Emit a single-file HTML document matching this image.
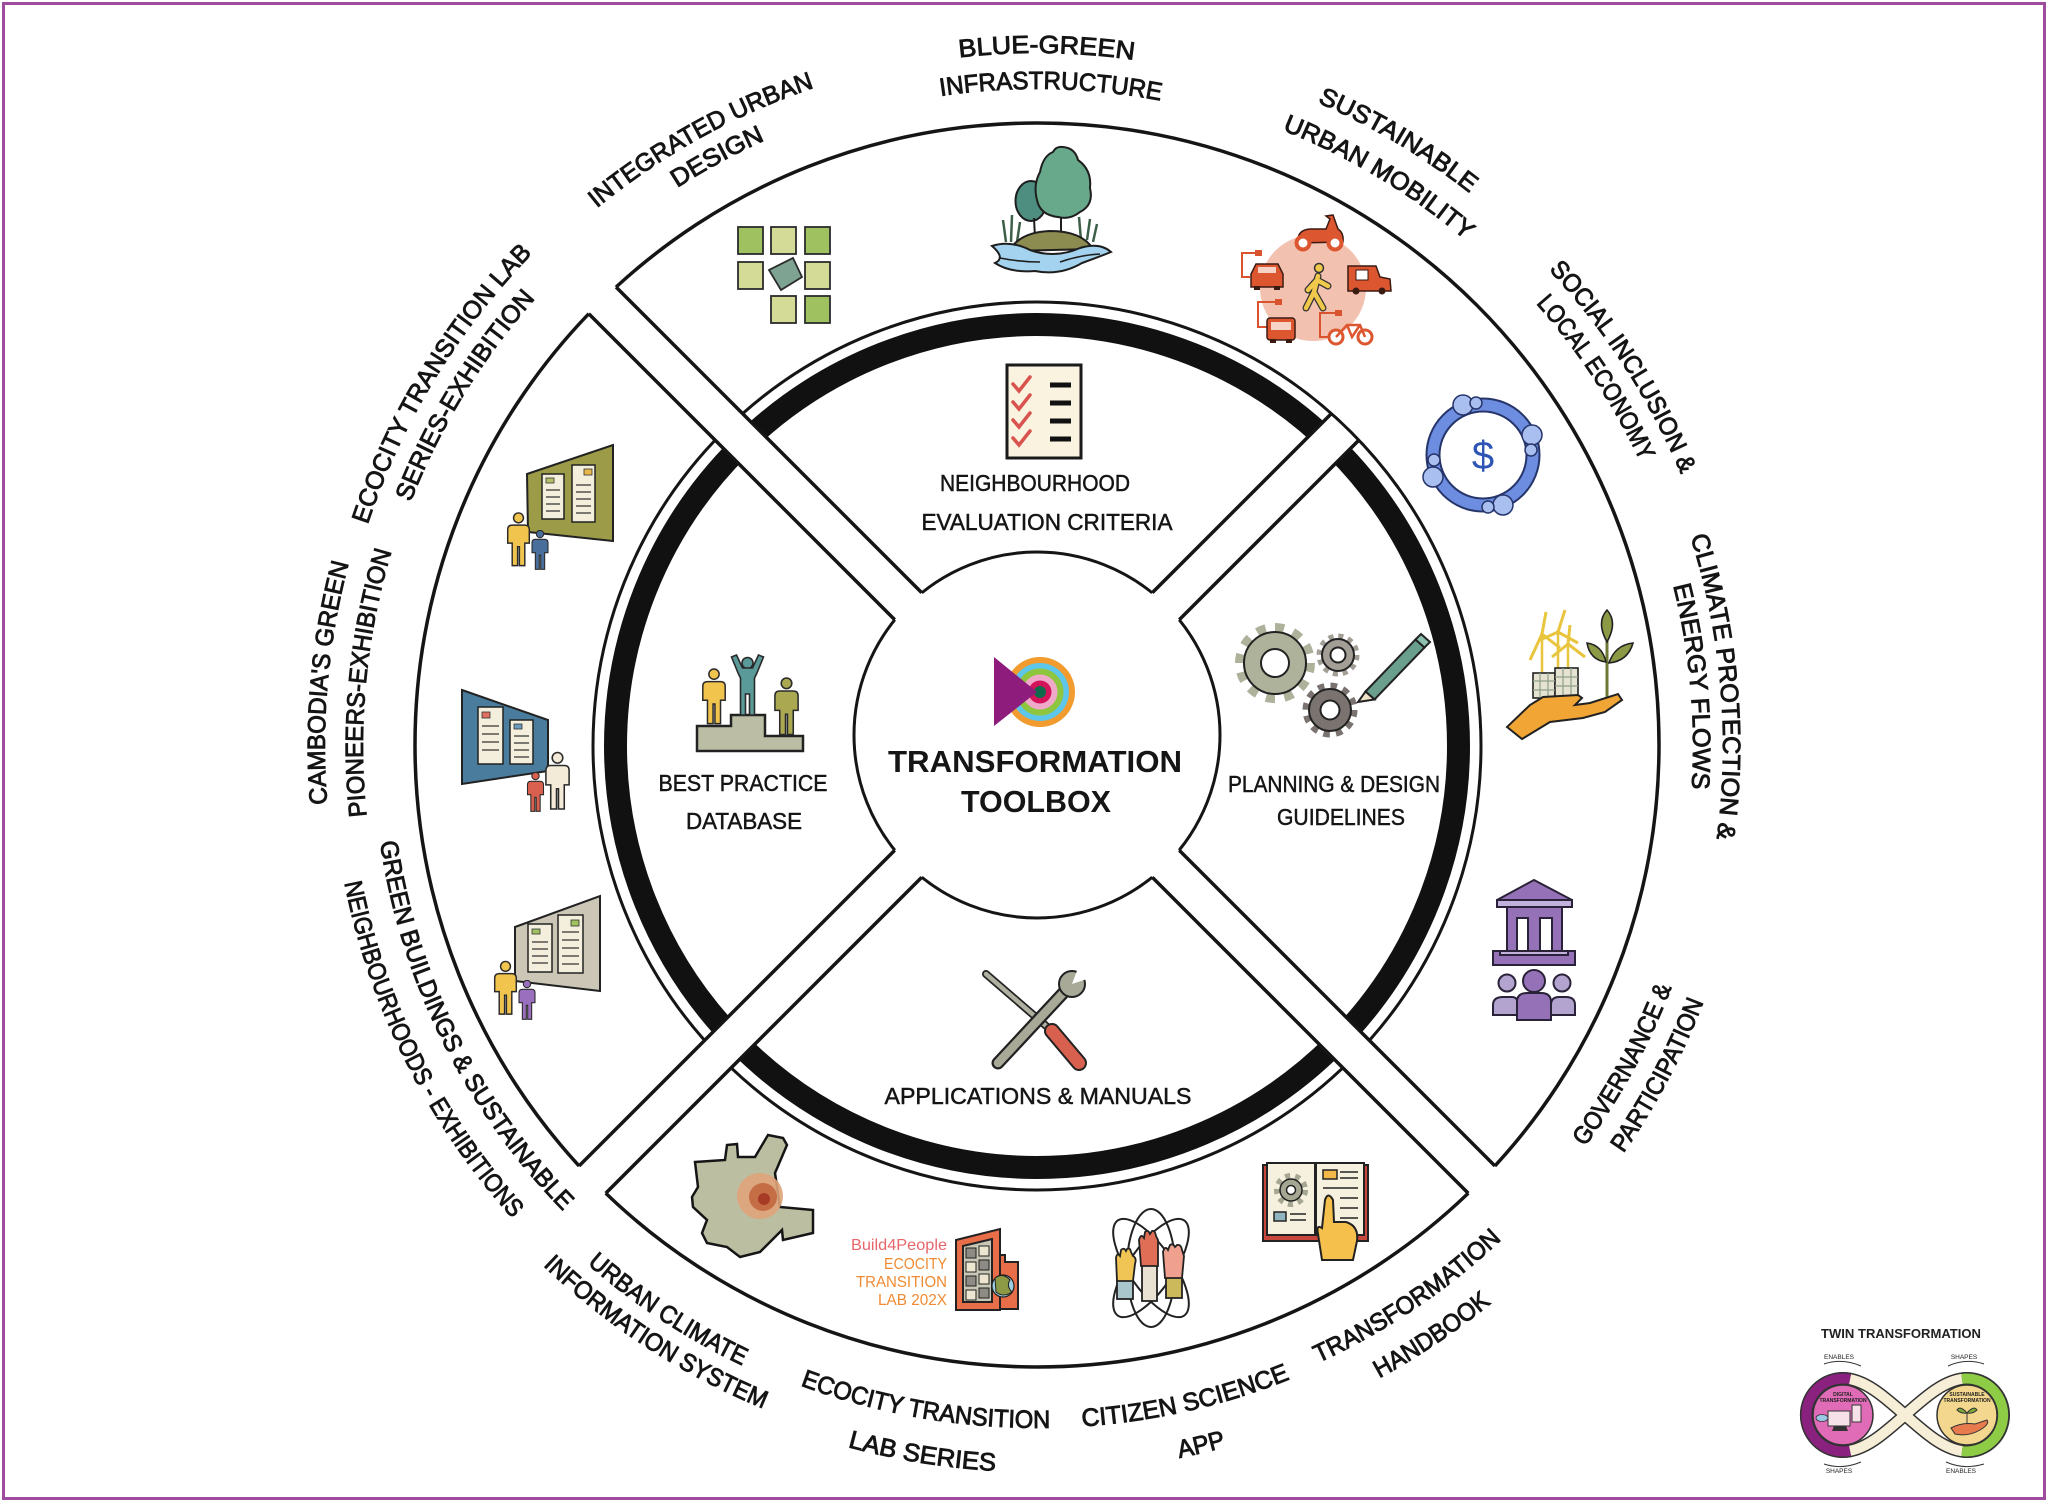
<!DOCTYPE html>
<html><head><meta charset="utf-8">
<style>
html,body{margin:0;padding:0;background:#fff;overflow:hidden;}
svg{display:block;}
.L{font-family:"Liberation Sans","DejaVu Sans",sans-serif;font-size:25px;fill:#151515;stroke:#151515;stroke-width:0.9;}
.I{font-family:"Liberation Sans","DejaVu Sans",sans-serif;font-size:23px;fill:#151515;stroke:#151515;stroke-width:0.5;}
.T{font-family:"Liberation Sans","DejaVu Sans",sans-serif;font-size:31px;font-weight:bold;fill:#151515;}
.S{font-family:"Liberation Sans","DejaVu Sans",sans-serif;}
</style></head><body>
<svg width="2048" height="1502" viewBox="0 0 2048 1502" xmlns="http://www.w3.org/2000/svg">
<defs>
<mask id="mA" maskUnits="userSpaceOnUse" x="0" y="0" width="2048" height="1502">
<rect x="0" y="0" width="2048" height="1502" fill="#000"/>
<circle cx="1037" cy="745" r="622" fill="#fff"/>
<circle cx="1037" cy="735" r="183" fill="#000"/>
</mask>
<mask id="mB" maskUnits="userSpaceOnUse" x="0" y="0" width="2048" height="1502">
<rect x="0" y="0" width="2048" height="1502" fill="#000"/>
<circle cx="1037" cy="746" r="444" fill="#fff"/>
<circle cx="1037" cy="735" r="183" fill="#000"/>
</mask>
<symbol id="person" viewBox="0 0 30 60"><circle cx="15" cy="6" r="5.5"/><path d="M3 34 L3 19 Q3 14 8 14 L22 14 Q27 14 27 19 L27 34 L22 34 L22 59 L16 59 L16 38 L14 38 L14 59 L8 59 L8 34 Z"/></symbol>
<symbol id="cheer" viewBox="0 0 36 62"><circle cx="18" cy="9" r="5.5"/><path d="M2 3 L7 1 L13 14 L23 14 L29 1 L34 3 L27 20 L25 24 L25 61 L20 61 L20 40 L16 40 L16 61 L11 61 L11 24 L9 20 Z"/></symbol>
<!-- label paths, top type (clockwise) -->
<path id="pT693" d="M547 256 A693 693 0 0 1 1527 256"/>
<path id="pT657" d="M572.4 281.4 A657 657 0 0 1 1501.6 281.4"/>
<path id="pT695" d="M545.6 254.6 A695 695 0 0 1 1528.4 254.6"/>
<path id="pT664" d="M567.5 276.5 A664 664 0 0 1 1506.5 276.5"/>
<path id="pT702" d="M540.6 249.6 A702 702 0 0 1 1533.4 249.6"/>
<path id="pT663" d="M568.2 277.2 A663 663 0 0 1 1505.8 277.2"/>
<path id="pT699" d="M542.7 251.7 A699 699 0 0 1 1531.3 251.7"/>
<path id="pT667" d="M565.4 274.4 A667 667 0 0 1 1508.6 274.4"/>
<path id="pT686" d="M551.9 260.9 A686 686 0 0 1 1522.1 260.9"/>
<path id="pT656" d="M573.1 282.1 A656 656 0 0 1 1500.9 282.1"/>
<path id="pT712" d="M533.5 242.5 A712 712 0 0 1 1540.5 242.5"/>
<path id="pT674" d="M560.4 269.4 A674 674 0 0 1 1513.6 269.4"/>
<path id="pT705" d="M538.5 247.5 A705 705 0 0 1 1535.5 247.5"/>
<path id="pT672" d="M561.8 270.8 A672 672 0 0 1 1512.2 270.8"/>
<!-- bottom type (counterclockwise) -->
<path id="pB679" d="M556.9 1226.1 A679 679 0 0 0 1517.1 1226.1"/>
<path id="pB714" d="M532.1 1250.9 A714 714 0 0 0 1541.9 1250.9"/>
<path id="pB678" d="M557.6 1225.4 A678 678 0 0 0 1516.4 1225.4"/>
<path id="pB719" d="M528.6 1254.4 A719 719 0 0 0 1545.4 1254.4"/>
<path id="pB682" d="M554.8 1228.2 A682 682 0 0 0 1519.2 1228.2"/>
<path id="pB726" d="M523.6 1259.4 A726 726 0 0 0 1550.4 1259.4"/>
<path id="pB686" d="M551.9 1231.1 A686 686 0 0 0 1522.1 1231.1"/>
<path id="pB717" d="M530 1253 A717 717 0 0 0 1544 1253"/>
<path id="pB664" d="M567.5 1215.5 A664 664 0 0 0 1506.5 1215.5"/>
<path id="pB706" d="M537.8 1245.2 A706 706 0 0 0 1536.2 1245.2"/>
</defs>

<rect width="2048" height="1502" fill="#fff"/>
<rect x="3.5" y="3.5" width="2041" height="1495" fill="none" stroke="#a04c9e" stroke-width="3"/>

<!-- rings -->
<circle cx="1037" cy="745" r="622" fill="none" stroke="#151515" stroke-width="3.5"/>
<circle cx="1037" cy="746" r="444" fill="none" stroke="#151515" stroke-width="3"/>
<circle cx="1037" cy="746" r="421.5" fill="none" stroke="#111" stroke-width="23"/>
<circle cx="1037" cy="735" r="183" fill="none" stroke="#151515" stroke-width="3"/>

<!-- gap bands -->
<g fill="#fff">
<rect x="-660" y="-19" width="1320" height="38" transform="translate(1037 735) rotate(45)"/>
<rect x="0" y="-19" width="660" height="38" transform="translate(1037 735) rotate(135)"/>
<rect x="0" y="-19" width="430" height="38" transform="translate(1037 735) rotate(-45)"/>
</g>
<g stroke="#151515" stroke-width="3.5" mask="url(#mA)">
<line x1="300" y1="-29" x2="1800" y2="1471"/>
<line x1="300" y1="25" x2="1800" y2="1525"/>
<line x1="1023" y1="722" x2="300" y2="1445"/>
<line x1="1051" y1="748" x2="300" y2="1499"/>
</g>
<g stroke="#151515" stroke-width="3.5" mask="url(#mB)">
<line x1="1023" y1="722" x2="1700" y2="45"/>
<line x1="1051" y1="748" x2="1700" y2="99"/>
</g>

<!-- ===== Outer icons ===== -->
<!-- integrated urban design grid -->
<g stroke="#2b2b2b" stroke-width="1.8">
<rect x="738" y="227" width="25" height="27" fill="#9fc160"/>
<rect x="771" y="227" width="25" height="27" fill="#d3db97"/>
<rect x="805" y="227" width="25" height="27" fill="#9fc160"/>
<rect x="738" y="262" width="25" height="27" fill="#d3db97"/>
<polygon points="793,258 802,277 781,290 769,270" fill="#7fa392"/>
<rect x="805" y="262" width="25" height="27" fill="#d3db97"/>
<rect x="771" y="296" width="25" height="27" fill="#d3db97"/>
<rect x="805" y="296" width="25" height="27" fill="#9fc160"/>
</g>

<!-- blue-green tree -->
<g stroke="#1e1e1e" stroke-width="2">
<path d="M1006 242 L1003 220 M1011 242 L1012 215 M1017 242 L1020 222 M1081 240 L1079 217 M1087 240 L1090 219 M1093 242 L1097 224" stroke="#3d5f48" stroke-width="2.5" fill="none"/>
<ellipse cx="1031" cy="201" rx="15.5" ry="20" fill="#4d8e80"/>
<line x1="1034" y1="218" x2="1035" y2="238"/>
<line x1="1061" y1="214" x2="1061" y2="236"/>
<path d="M1063 147 Q1075 148 1078 160 Q1092 170 1090 188 Q1094 205 1080 212 Q1070 220 1058 217 Q1040 215 1037 200 Q1033 185 1040 172 Q1043 156 1053 152 Q1056 146 1063 147 Z" fill="#68a98b"/>
<path d="M1009 251 Q1020 232 1050 231 Q1082 231 1093 249 Z" fill="#8c8b50"/>
<path d="M992 246 Q1010 240 1030 250 Q1055 259 1080 248 Q1100 242 1111 252 Q1096 258 1082 263 Q1060 276 1035 271 Q1010 273 995 263 Q1006 258 992 246 Z" fill="#a3d3ef"/>
<path d="M1000 258 Q1020 262 1040 262 M1060 262 Q1080 255 1100 254" fill="none" stroke-width="1.5"/>
</g>

<!-- sustainable mobility -->
<circle cx="1313" cy="288" r="53" fill="#f3c1b0"/>
<g stroke="#d9542e" stroke-width="2" fill="none">
<path d="M1256 253 L1242 253 L1242 277 L1250 277"/>
<path d="M1276 302 L1258 302 L1258 327 L1267 327"/>
<path d="M1336 313 L1320 313 L1320 337 L1328 337"/>
</g>
<g fill="#d9542e"><rect x="1255" y="250" width="7" height="6"/><rect x="1275" y="299" width="7" height="6"/><rect x="1335" y="310" width="7" height="6"/></g>
<g fill="#dc5630" stroke="#3b1a12" stroke-width="1.5">
<path d="M1298 240 Q1298 230 1310 229 L1326 229 L1330 219 L1326 216 L1333 215 L1338 229 Q1344 233 1343 242 L1298 243 Z"/>
<path d="M1251 287 L1251 274 L1256 264 L1278 264 L1283 274 L1283 287 Z"/>
<path d="M1348 291 L1348 266 L1376 266 L1380 277 L1390 279 L1391 291 Z"/>
<rect x="1267" y="318" width="28" height="22" rx="3"/>
</g>
<circle cx="1303" cy="243" r="6.5" fill="#fff" stroke="#dc5630" stroke-width="4"/>
<circle cx="1335" cy="243" r="6.5" fill="#fff" stroke="#dc5630" stroke-width="4"/>
<rect x="1258" y="267" width="18" height="6" fill="#f6d3c6"/>
<rect x="1356" y="270" width="12" height="10" fill="#fff" stroke="#3b1a12" stroke-width="1"/>
<rect x="1271" y="322" width="20" height="8" fill="#f6d3c6"/>
<g fill="#3b1a12"><rect x="1254" y="286" width="6" height="4"/><rect x="1274" y="286" width="6" height="4"/><rect x="1270" y="339" width="6" height="4"/><rect x="1286" y="339" width="6" height="4"/><circle cx="1356" cy="291" r="3.5"/><circle cx="1382" cy="291" r="3.5"/></g>
<g fill="#fff" stroke="#dc5630" stroke-width="3"><circle cx="1336" cy="337" r="7"/><circle cx="1365" cy="337" r="7"/></g>
<path d="M1336 337 L1347 325 L1360 325 L1365 337 M1347 325 L1352 337 L1360 325" stroke="#dc5630" stroke-width="2.5" fill="none"/>
<g fill="none" stroke-linecap="round">
<path d="M1318 276 L1314 292 L1306 308 M1314 292 L1323 308 M1317 280 L1308 290 M1317 280 L1328 286" stroke="#333" stroke-width="7"/>
<path d="M1318 276 L1314 292 L1306 308 M1314 292 L1323 308 M1317 280 L1308 290 M1317 280 L1328 286" stroke="#f0c84b" stroke-width="4.5"/>
</g>
<circle cx="1319" cy="268" r="4.5" fill="#f0c84b" stroke="#333" stroke-width="1.5"/>

<!-- social inclusion -->
<circle cx="1483" cy="455" r="50" fill="none" stroke="#26356a" stroke-width="15"/>
<circle cx="1483" cy="455" r="50" fill="none" stroke="#6c8de0" stroke-width="11"/>
<g fill="#a9bff0" stroke="#26356a" stroke-width="1.5">
<circle cx="1463" cy="405" r="10"/><circle cx="1532" cy="435" r="10"/><circle cx="1503" cy="505" r="10"/><circle cx="1433" cy="477" r="10"/>
<circle cx="1476" cy="403" r="6"/><circle cx="1531" cy="450" r="6"/><circle cx="1488" cy="507" r="6"/><circle cx="1434" cy="460" r="6"/>
</g>
<text x="1483" y="469" font-size="40" text-anchor="middle" fill="#2e55b5" class="S">$</text>

<!-- climate protection -->
<g stroke="#222" stroke-width="1.6">
<path d="M1542 672 L1542 632 M1558 668 L1558 630 M1568 670 L1568 642" stroke="#e8c53d" stroke-width="2.5"/>
<path d="M1542 634 L1530 660 M1542 634 L1560 648 M1542 634 L1546 612 M1558 632 L1565 610 M1558 632 L1578 643 M1558 632 L1540 640 M1568 644 L1585 657 M1568 644 L1552 657 M1568 644 L1570 625" stroke="#e8c53d" stroke-width="3" fill="none"/>
<rect x="1533" y="673" width="22" height="25" fill="#e6e3d3"/>
<rect x="1555" y="668" width="23" height="29" fill="#e6e3d3"/>
<path d="M1533 681 H1555 M1533 690 H1555 M1540 673 V698 M1548 673 V698 M1555 677 H1578 M1555 686 H1578 M1563 668 V697 M1571 668 V697" stroke="#8fa08a" stroke-width="1.2"/>
<path d="M1607 698 L1607 634" stroke="#6d7a33" stroke-width="3"/>
<path d="M1607 610 Q1618 622 1607 642 Q1596 622 1607 610 Z" fill="#8c9a45"/>
<path d="M1587 643 Q1602 645 1606 662 Q1590 660 1587 643 Z" fill="#8c9a45"/>
<path d="M1633 643 Q1615 645 1609 663 Q1628 661 1633 643 Z" fill="#8c9a45"/>
<path d="M1507 727 L1522 739 L1550 722 L1583 718 L1605 712 L1622 700 L1618 694 L1590 703 L1575 705 L1582 698 L1578 695 L1543 697 L1530 705 Z" fill="#f0a535" stroke-width="2"/>
</g>

<!-- governance -->
<g stroke="#2a2238" stroke-width="2">
<polygon points="1534,880 1572,900 1497,900" fill="#9572b8"/>
<rect x="1497" y="900" width="75" height="7" fill="#c2b0dd"/>
<rect x="1507" y="907" width="55" height="45" fill="#9572b8"/>
<rect x="1517" y="918" width="11" height="33" fill="#fff"/>
<rect x="1540" y="918" width="12" height="33" fill="#fff"/>
<rect x="1493" y="951" width="82" height="14" fill="#9572b8"/>
<rect x="1500" y="951" width="68" height="4" fill="#c2b0dd"/>
<path d="M1493 1015 L1493 1005 Q1493 997 1503 997 L1512 997 Q1518 997 1518 1005 L1518 1015 Z" fill="#b3a3cf"/>
<path d="M1551 1015 L1551 1005 Q1551 997 1559 997 L1566 997 Q1575 997 1575 1005 L1575 1015 Z" fill="#b3a3cf"/>
<path d="M1517 1020 L1517 1002 Q1517 993 1527 993 L1541 993 Q1551 993 1551 1002 L1551 1020 Z" fill="#9572b8"/>
<circle cx="1507" cy="983" r="8.5" fill="#b3a3cf"/>
<circle cx="1562" cy="983" r="8.5" fill="#b3a3cf"/>
<circle cx="1534" cy="981" r="11" fill="#9572b8"/>
</g>

<!-- handbook -->
<g stroke="#222" stroke-width="2">
<rect x="1263" y="1165" width="105" height="76" fill="#c8473d"/>
<rect x="1267" y="1163" width="48" height="72" fill="#f6f1de"/>
<rect x="1316" y="1163" width="48" height="72" fill="#f6f1de"/>
<circle cx="1291" cy="1190" r="14" fill="none" stroke="#a5a792" stroke-width="6" stroke-dasharray="5 5"/>
<circle cx="1291" cy="1190" r="11" fill="#a5a792" stroke-width="1.5"/>
<circle cx="1291" cy="1190" r="4.5" fill="#fff" stroke-width="1.5"/>
<rect x="1274" y="1212" width="12" height="9" fill="#8fb3bf" stroke-width="1.5"/>
<rect x="1323" y="1170" width="14" height="9" fill="#f2b84a" stroke-width="1.5"/>
<path d="M1290 1214 H1306 M1290 1220 H1306 M1340 1172 H1358 M1340 1178 H1358 M1323 1188 H1358 M1340 1198 H1358 M1340 1208 H1358 M1340 1218 H1358" stroke-width="1.5"/>
<path d="M1322 1260 L1318 1234 Q1316 1224 1322 1228 L1325 1200 Q1328 1191 1333 1200 L1334 1222 L1346 1222 Q1359 1226 1357 1241 L1353 1260 Z" fill="#f5c04b"/>
</g>

<!-- citizen science -->
<g fill="none" stroke="#222" stroke-width="2">
<ellipse cx="1151" cy="1268" rx="24" ry="59"/>
<ellipse cx="1151" cy="1268" rx="58" ry="22" transform="rotate(-55 1151 1268)"/>
<ellipse cx="1151" cy="1268" rx="58" ry="22" transform="rotate(55 1151 1268)"/>
</g>
<g stroke="#222" stroke-width="1.8">
<rect x="1117" y="1280" width="16" height="19" fill="#a8c6cc"/>
<path d="M1117 1281 L1116 1258 Q1117 1252 1120 1256 L1121 1250 Q1124 1247 1126 1251 L1127 1249 Q1130 1247 1131 1252 L1133 1256 Q1137 1258 1135 1264 L1133 1281 Z" fill="#f1c555"/>
<rect x="1142" y="1265" width="15" height="36" fill="#e9e1d1"/>
<path d="M1141 1266 L1139 1240 Q1141 1233 1144 1238 L1145 1232 Q1148 1229 1150 1234 L1152 1231 Q1155 1230 1156 1236 L1158 1240 L1158 1266 Z" fill="#e06e57"/>
<rect x="1166" y="1277" width="16" height="21" fill="#cbb95c"/>
<path d="M1165 1278 L1163 1252 Q1165 1245 1168 1250 L1170 1245 Q1173 1243 1175 1247 L1177 1245 Q1181 1244 1182 1250 L1184 1256 L1182 1278 Z" fill="#f0a08f"/>
</g>

<!-- build4people building -->
<g stroke="#222" stroke-width="2">
<path d="M998 1255 L1005 1255 L1005 1262 L1018 1262 L1018 1309 L998 1309 Z" fill="#e76e48"/>
<path d="M956 1240 L1000 1229 L1000 1310 L956 1310 Z" fill="#e76e48"/>
<path d="M963 1246 L992 1239 L992 1302 L963 1302 Z" fill="#c8c6b4"/>
<rect x="966" y="1248" width="10" height="10" fill="#8e8a84" stroke-width="1"/><rect x="979" y="1246" width="10" height="10" fill="#ece5d0" stroke-width="1"/>
<rect x="966" y="1262" width="10" height="10" fill="#ece5d0" stroke-width="1"/><rect x="979" y="1260" width="10" height="10" fill="#8e8a84" stroke-width="1"/>
<rect x="966" y="1276" width="10" height="10" fill="#8e8a84" stroke-width="1"/><rect x="979" y="1274" width="10" height="10" fill="#ece5d0" stroke-width="1"/>
<rect x="966" y="1290" width="10" height="10" fill="#ece5d0" stroke-width="1"/><rect x="979" y="1288" width="10" height="10" fill="#8e8a84" stroke-width="1"/>
<circle cx="1003" cy="1286" r="11" fill="#9fd0e2" stroke-width="1.2"/>
<path d="M995 1278 Q1003 1272 1010 1280 Q1006 1286 1012 1292 Q1003 1298 996 1292 Z" fill="#8c9a45" stroke-width="1"/>
</g>
<g class="S" text-anchor="end" font-size="16">
<text x="947" y="1250" fill="#e8666a" textLength="96" lengthAdjust="spacingAndGlyphs">Build4People</text>
<text x="947" y="1269" fill="#f08b33" textLength="63" lengthAdjust="spacingAndGlyphs">ECOCITY</text>
<text x="947" y="1287" fill="#f08b33" textLength="91" lengthAdjust="spacingAndGlyphs">TRANSITION</text>
<text x="947" y="1305" fill="#f08b33" textLength="69" lengthAdjust="spacingAndGlyphs">LAB 202X</text>
</g>

<!-- urban climate map -->
<polygon points="695,1162 725,1160 727,1145 737,1144 738,1157 755,1157 768,1135 783,1138 787,1145 775,1173 780,1207 813,1210 813,1233 783,1240 782,1230 760,1252 740,1257 727,1247 707,1243 702,1233 707,1220 693,1207 692,1197 698,1187" fill="#bcbea2" stroke="#151515" stroke-width="2.5"/>
<circle cx="760" cy="1196" r="23" fill="#dfa37a" opacity="0.9"/>
<circle cx="763" cy="1197" r="14" fill="#c56d45"/>
<circle cx="764" cy="1199" r="6" fill="#a83b26"/>

<!-- exhibition boards (left) -->
<g stroke="#222" stroke-width="2">
<polygon points="527,474 613,445 613,541 528,532" fill="#9c9b47"/>
<rect x="542" y="474" width="22" height="45" fill="#f4efdc" stroke-width="1.5"/>
<rect x="572" y="465" width="23" height="57" fill="#f4efdc" stroke-width="1.5"/>
<polygon points="462,690 548,720 548,771 462,784" fill="#4a7c9d"/>
<rect x="478" y="707" width="25" height="57" fill="#f4efdc" stroke-width="1.5"/>
<rect x="510" y="720" width="23" height="44" fill="#f4efdc" stroke-width="1.5"/>
<polygon points="515,927 600,896 600,991 515,981" fill="#cbc6b6"/>
<rect x="528" y="924" width="24" height="48" fill="#f4efdc" stroke-width="1.5"/>
<rect x="558" y="915" width="25" height="58" fill="#f4efdc" stroke-width="1.5"/>
</g>
<g stroke="#333" stroke-width="1.3">
<path d="M546 490 H560 M546 497 H560 M546 504 H560 M546 511 H560 M576 485 H591 M576 492 H591 M576 499 H591 M576 506 H591 M576 513 H591"/>
<path d="M482 726 H499 M482 734 H499 M482 742 H499 M482 750 H499 M514 736 H529 M514 743 H529 M514 750 H529 M514 757 H529"/>
<path d="M532 942 H548 M532 949 H548 M532 956 H548 M532 963 H548 M562 932 H579 M562 940 H579 M562 948 H579 M562 956 H579 M562 964 H579"/>
</g>
<g stroke="#333" stroke-width="0.8">
<rect x="546" y="478" width="8" height="5" fill="#b8c06a"/><rect x="584" y="469" width="8" height="6" fill="#e8b84a"/>
<rect x="482" y="712" width="8" height="6" fill="#e07060"/><rect x="514" y="724" width="8" height="5" fill="#6a9ac0"/>
<rect x="532" y="929" width="8" height="5" fill="#9fc160"/><rect x="571" y="920" width="8" height="6" fill="#9fc160"/>
</g>
<g stroke="#2a2a2a" stroke-width="1.6">
<use href="#person" x="505" y="509" width="27" height="61" fill="#f1c44e"/>
<use href="#person" x="530" y="530" width="20" height="40" fill="#4a6e9c"/>
<use href="#person" x="525" y="772" width="21" height="40" fill="#d9604f"/>
<use href="#person" x="543" y="750" width="29" height="62" fill="#f3ead8"/>
<use href="#person" x="492" y="957" width="27" height="62" fill="#f1c44e"/>
<use href="#person" x="517" y="980" width="20" height="40" fill="#9a6fbd"/>
</g>

<!-- ===== inner icons ===== -->
<!-- checklist -->
<rect x="1007" y="365" width="74" height="93" fill="#faf3df" stroke="#1a1a1a" stroke-width="3"/>
<g fill="none" stroke="#d9534f" stroke-width="3.5" stroke-linecap="round">
<polyline points="1013,384 1019,391 1030,377"/>
<polyline points="1013,402 1019,409 1030,395"/>
<polyline points="1013,420 1019,427 1030,413"/>
<polyline points="1013,438 1019,445 1030,431"/>
</g>
<g stroke="#111" stroke-width="5">
<line x1="1050" y1="385" x2="1071" y2="385"/><line x1="1050" y1="403" x2="1071" y2="403"/><line x1="1050" y1="421" x2="1071" y2="421"/><line x1="1050" y1="439" x2="1071" y2="439"/>
</g>

<!-- podium -->
<path d="M697 726 L731 726 L731 715 L765 715 L765 736 L803 736 L803 751 L697 751 Z" fill="#bbbea4" stroke="#222" stroke-width="2.5"/>
<g stroke="#2a2a2a" stroke-width="1.6">
<use href="#person" x="700" y="666" width="28" height="61" fill="#f1c44e"/>
<use href="#person" x="772" y="676" width="29" height="61" fill="#aaa952"/>
<use href="#cheer" x="729" y="654" width="37" height="62" fill="#5a9a98"/>
</g>

<!-- gears + pencil -->
<g stroke="#222" stroke-width="2">
<circle cx="1275" cy="663" r="35" fill="none" stroke="#aeb29a" stroke-width="10" stroke-dasharray="9 9.3"/>
<circle cx="1275" cy="663" r="31" fill="#aeb29a"/>
<circle cx="1275" cy="663" r="14" fill="#fff"/>
<circle cx="1338" cy="655" r="18.5" fill="none" stroke="#a39e96" stroke-width="6" stroke-dasharray="5 4.7"/>
<circle cx="1338" cy="655" r="16" fill="#a39e96"/>
<circle cx="1338" cy="655" r="7.5" fill="#fff"/>
<circle cx="1330" cy="710" r="24" fill="none" stroke="#7a7370" stroke-width="7" stroke-dasharray="6.5 6.1"/>
<circle cx="1330" cy="710" r="21" fill="#7a7370"/>
<circle cx="1330" cy="710" r="9.5" fill="#fff"/>
<polygon points="1424.5,647.5 1415.5,639.5 1365.5,691.5 1374.5,699.5" fill="#6a9f8d"/>
<polygon points="1365.5,691.5 1374.5,699.5 1358,702" fill="#efe2c8"/>
<polygon points="1424.5,647.5 1415.5,639.5 1421,634 1430,642" fill="#8cc0b0"/>
</g>

<!-- tools -->
<g stroke-linecap="round">
<line x1="986" y1="974" x2="1052" y2="1031" stroke="#222" stroke-width="8"/>
<line x1="986" y1="974" x2="1052" y2="1031" stroke="#b0b0a0" stroke-width="4.5"/>
<line x1="998" y1="1063" x2="1066" y2="990" stroke="#222" stroke-width="13"/>
<line x1="998" y1="1063" x2="1066" y2="990" stroke="#a9a998" stroke-width="8.5"/>
<line x1="1052" y1="1031" x2="1079" y2="1063" stroke="#222" stroke-width="16"/>
<line x1="1052" y1="1031" x2="1079" y2="1063" stroke="#d8604e" stroke-width="12"/>
</g>
<circle cx="1072" cy="984" r="13" fill="#a9a998" stroke="#222" stroke-width="2"/>
<polygon points="1072,984 1078,968 1090,978" fill="#fff"/>

<!-- center logo -->
<circle cx="1040" cy="692" r="35" fill="#f29b2f"/>
<circle cx="1040" cy="692" r="29" fill="#5ec6e9"/>
<circle cx="1040" cy="692" r="23.5" fill="#8fc640"/>
<circle cx="1040" cy="692" r="17.5" fill="#f1a9c9"/>
<circle cx="1040" cy="692" r="11.5" fill="#d3145a"/>
<circle cx="1040" cy="692" r="6" fill="#0d6b4c"/>
<polygon points="994,657 1037,692 994,726" fill="#8d1c7d"/>

<!-- inner labels -->
<text class="T" x="1035" y="772" text-anchor="middle" textLength="294" lengthAdjust="spacingAndGlyphs">TRANSFORMATION</text>
<text class="T" x="1036" y="812" text-anchor="middle" textLength="150" lengthAdjust="spacingAndGlyphs">TOOLBOX</text>
<text class="I" x="1035" y="491" text-anchor="middle" textLength="190" lengthAdjust="spacingAndGlyphs">NEIGHBOURHOOD</text>
<text class="I" x="1047" y="530" text-anchor="middle" textLength="251" lengthAdjust="spacingAndGlyphs">EVALUATION CRITERIA</text>
<text class="I" x="743" y="791" text-anchor="middle" textLength="169" lengthAdjust="spacingAndGlyphs">BEST PRACTICE</text>
<text class="I" x="744" y="829" text-anchor="middle" textLength="116" lengthAdjust="spacingAndGlyphs">DATABASE</text>
<text class="I" x="1334" y="792" text-anchor="middle" textLength="212" lengthAdjust="spacingAndGlyphs">PLANNING &amp; DESIGN</text>
<text class="I" x="1341" y="825" text-anchor="middle" textLength="128" lengthAdjust="spacingAndGlyphs">GUIDELINES</text>
<text class="I" x="1038" y="1104" text-anchor="middle" textLength="307" lengthAdjust="spacingAndGlyphs">APPLICATIONS &amp; MANUALS</text>

<!-- outer labels: top type -->
<text class="L" transform="rotate(0.8 1037 746)"><textPath href="#pT693" startOffset="50%" text-anchor="middle" textLength="175" lengthAdjust="spacingAndGlyphs">BLUE-GREEN</textPath></text>
<text class="L" transform="rotate(1.2 1037 746)"><textPath href="#pT657" startOffset="50%" text-anchor="middle" textLength="221" lengthAdjust="spacingAndGlyphs">INFRASTRUCTURE</textPath></text>
<text class="L" transform="rotate(-29 1037 746)"><textPath href="#pT695" startOffset="50%" text-anchor="middle" textLength="250" lengthAdjust="spacingAndGlyphs">INTEGRATED URBAN</textPath></text>
<text class="L" transform="rotate(-28.5 1037 746)"><textPath href="#pT664" startOffset="50%" text-anchor="middle" textLength="100" lengthAdjust="spacingAndGlyphs">DESIGN</textPath></text>
<text class="L" transform="rotate(30.8 1037 746)"><textPath href="#pT702" startOffset="50%" text-anchor="middle" textLength="178" lengthAdjust="spacingAndGlyphs">SUSTAINABLE</textPath></text>
<text class="L" transform="rotate(31 1037 746)"><textPath href="#pT663" startOffset="50%" text-anchor="middle" textLength="215" lengthAdjust="spacingAndGlyphs">URBAN MOBILITY</textPath></text>
<text class="L" transform="rotate(57.1 1037 746)"><textPath href="#pT699" startOffset="50%" text-anchor="middle" textLength="245" lengthAdjust="spacingAndGlyphs">SOCIAL INCLUSION &amp;</textPath></text>
<text class="L" transform="rotate(56.6 1037 746)"><textPath href="#pT667" startOffset="50%" text-anchor="middle" textLength="190" lengthAdjust="spacingAndGlyphs">LOCAL ECONOMY</textPath></text>
<text class="L" transform="rotate(85 1037 746)"><textPath href="#pT686" startOffset="50%" text-anchor="middle" textLength="306" lengthAdjust="spacingAndGlyphs">CLIMATE PROTECTION &amp;</textPath></text>
<text class="L" transform="rotate(84.8 1037 746)"><textPath href="#pT656" startOffset="50%" text-anchor="middle" textLength="205" lengthAdjust="spacingAndGlyphs">ENERGY FLOWS</textPath></text>
<text class="L" transform="rotate(-84.9 1037 746)"><textPath href="#pT712" startOffset="50%" text-anchor="middle" textLength="243" lengthAdjust="spacingAndGlyphs">CAMBODIA'S GREEN</textPath></text>
<text class="L" transform="rotate(-84.6 1037 746)"><textPath href="#pT674" startOffset="50%" text-anchor="middle" textLength="268" lengthAdjust="spacingAndGlyphs">PIONEERS-EXHIBITION</textPath></text>
<text class="L" transform="rotate(-58.7 1037 746)"><textPath href="#pT705" startOffset="50%" text-anchor="middle" textLength="320" lengthAdjust="spacingAndGlyphs">ECOCITY TRANSITION LAB</textPath></text>
<text class="L" transform="rotate(-58.5 1037 746)"><textPath href="#pT672" startOffset="50%" text-anchor="middle" textLength="240" lengthAdjust="spacingAndGlyphs">SERIES-EXHIBITION</textPath></text>

<!-- outer labels: bottom type -->
<text class="L" transform="rotate(-61.5 1037 746)"><textPath href="#pB679" startOffset="50%" text-anchor="middle" textLength="182" lengthAdjust="spacingAndGlyphs">GOVERNANCE &amp;</textPath></text>
<text class="L" transform="rotate(-62.1 1037 746)"><textPath href="#pB714" startOffset="50%" text-anchor="middle" textLength="172" lengthAdjust="spacingAndGlyphs">PARTICIPATION</textPath></text>
<text class="L" transform="rotate(-33.9 1037 746)"><textPath href="#pB678" startOffset="50%" text-anchor="middle" textLength="222" lengthAdjust="spacingAndGlyphs">TRANSFORMATION</textPath></text>
<text class="L" transform="rotate(-33.8 1037 746)"><textPath href="#pB719" startOffset="50%" text-anchor="middle" textLength="135" lengthAdjust="spacingAndGlyphs">HANDBOOK</textPath></text>
<text class="L" transform="rotate(-12.8 1037 746)"><textPath href="#pB682" startOffset="50%" text-anchor="middle" textLength="214" lengthAdjust="spacingAndGlyphs">CITIZEN SCIENCE</textPath></text>
<text class="L" transform="rotate(-13.2 1037 746)"><textPath href="#pB726" startOffset="50%" text-anchor="middle" textLength="48" lengthAdjust="spacingAndGlyphs">APP</textPath></text>
<text class="L" transform="rotate(9.6 1037 746)"><textPath href="#pB682" startOffset="50%" text-anchor="middle" textLength="255" lengthAdjust="spacingAndGlyphs">ECOCITY TRANSITION</textPath></text>
<text class="L" transform="rotate(9.2 1037 746)"><textPath href="#pB726" startOffset="50%" text-anchor="middle" textLength="150" lengthAdjust="spacingAndGlyphs">LAB SERIES</textPath></text>
<text class="L" transform="rotate(33.2 1037 746)"><textPath href="#pB686" startOffset="50%" text-anchor="middle" textLength="186" lengthAdjust="spacingAndGlyphs">URBAN CLIMATE</textPath></text>
<text class="L" transform="rotate(33 1037 746)"><textPath href="#pB717" startOffset="50%" text-anchor="middle" textLength="264" lengthAdjust="spacingAndGlyphs">INFORMATION SYSTEM</textPath></text>
<text class="L" transform="rotate(63.6 1037 746)"><textPath href="#pB664" startOffset="50%" text-anchor="middle" textLength="419" lengthAdjust="spacingAndGlyphs">GREEN BUILDINGS &amp; SUSTAINABLE</textPath></text>
<text class="L" transform="rotate(63.4 1037 746)"><textPath href="#pB706" startOffset="50%" text-anchor="middle" textLength="380" lengthAdjust="spacingAndGlyphs">NEIGHBOURHOODS - EXHIBITIONS</textPath></text>

<!-- twin transformation logo -->
<text x="1901" y="1338" class="S" font-size="13" font-weight="bold" text-anchor="middle" fill="#222" textLength="160" lengthAdjust="spacingAndGlyphs">TWIN TRANSFORMATION</text>
<path d="M1843 1378.5 C1885 1378.5 1925 1451.5 1967 1451.5 A36.5 36.5 0 1 0 1967 1378.5 C1925 1378.5 1885 1451.5 1843 1451.5 A36.5 36.5 0 1 1 1843 1378.5 Z" fill="none" stroke="#333" stroke-width="13"/>
<path d="M1843 1378.5 C1885 1378.5 1925 1451.5 1967 1451.5 A36.5 36.5 0 1 0 1967 1378.5 C1925 1378.5 1885 1451.5 1843 1451.5 A36.5 36.5 0 1 1 1843 1378.5 Z" fill="none" stroke="#f6eed6" stroke-width="10"/>
<path d="M1850 1450.8 A36.5 36.5 0 1 1 1850 1379.2" fill="none" stroke="#333" stroke-width="13"/>
<path d="M1850 1450.8 A36.5 36.5 0 1 1 1850 1379.2" fill="none" stroke="#8b217f" stroke-width="10"/>
<path d="M1962 1378.8 A36.5 36.5 0 1 1 1962 1451.2" fill="none" stroke="#333" stroke-width="13"/>
<path d="M1962 1378.8 A36.5 36.5 0 1 1 1962 1451.2" fill="none" stroke="#8fcc45" stroke-width="10"/>
<circle cx="1843" cy="1415" r="30" fill="#e06cb7" stroke="#333" stroke-width="1.5"/>
<circle cx="1967" cy="1415" r="30" fill="#f3d78e" stroke="#333" stroke-width="1.5"/>
<rect x="1828" y="1411" width="22" height="15" fill="#f7e1e8" stroke="#333" stroke-width="1"/>
<rect x="1852" y="1405" width="9" height="17" fill="#f7e1e8" stroke="#333" stroke-width="1"/>
<path d="M1834 1426 L1832 1431 H1848 L1846 1426" fill="#333"/>
<ellipse cx="1822" cy="1418" rx="6" ry="3.5" fill="#9cc8e6" stroke="#333" stroke-width="0.8"/>
<path d="M1951 1428 Q1962 1422 1975 1424 L1987 1420 Q1990 1424 1980 1430 Q1968 1437 1955 1434 Z" fill="#e77b4e" stroke="#333" stroke-width="1"/>
<path d="M1967 1424 L1967 1412 M1967 1413 Q1960 1405 1957 1410 Q1961 1414 1967 1413 M1967 1413 Q1974 1405 1977 1410 Q1973 1414 1967 1413" fill="#7ea83a" stroke="#333" stroke-width="1"/>
<g class="S" font-size="5" text-anchor="middle" fill="#222" font-weight="bold">
<text x="1843" y="1396">DIGITAL</text><text x="1843" y="1402">TRANSFORMATION</text>
<text x="1967" y="1396">SUSTAINABLE</text><text x="1967" y="1402">TRANSFORMATION</text>
</g>
<g class="S" font-size="6.5" text-anchor="middle" fill="#222">
<text x="1839" y="1359">ENABLES</text><text x="1964" y="1359">SHAPES</text>
<text x="1839" y="1473">SHAPES</text><text x="1961" y="1473">ENABLES</text>
</g>
<g fill="none" stroke="#333" stroke-width="1">
<path d="M1824 1364 Q1842 1358 1861 1366"/><path d="M1948 1366 Q1966 1358 1984 1364"/>
<path d="M1824 1464 Q1842 1470 1861 1462"/><path d="M1946 1462 Q1964 1470 1984 1464"/>
</g>
</svg>
</body></html>
